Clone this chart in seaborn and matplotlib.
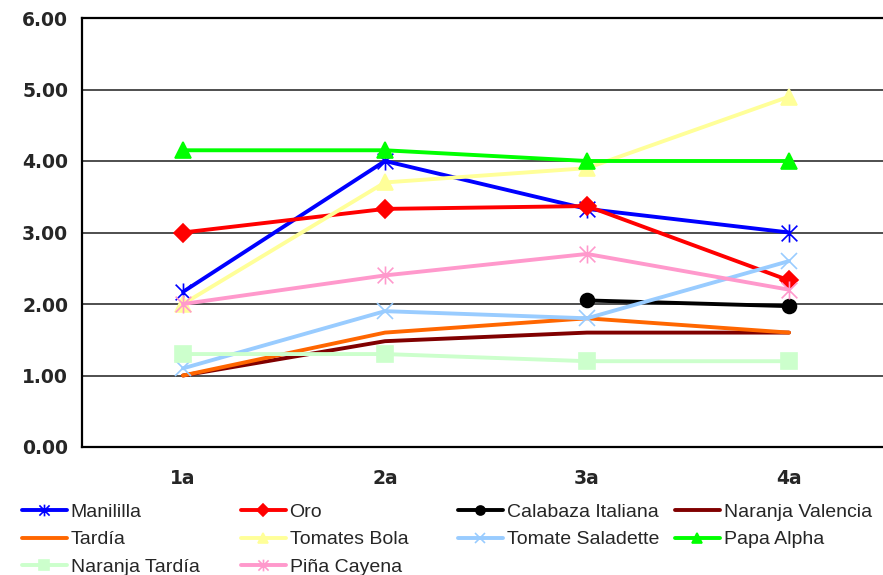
import numpy as np
import pandas as pd
import matplotlib
matplotlib.use("Agg")
import matplotlib.pyplot as plt
from matplotlib.path import Path
import seaborn as sns

# ----------- DONNÉES ------------
categories = ["1a", "2a", "3a", "4a"]

manililla = [2.17, 4.00, 3.33, 3.00]
oro = [3.00, 3.33, 3.37, 2.33]
calabaza_italiana = [np.nan, np.nan, 2.05, 1.97]
naranja_valencia = [1.00, 1.48, 1.60, 1.60]
tardia = [1.00, 1.60, 1.80, 1.60]
tomates_bola = [2.00, 3.70, 3.90, 4.90]
tomate_saladette = [1.10, 1.90, 1.80, 2.60]
papa_alpha = [4.15, 4.15, 4.00, 4.00]
naranja_tardia = [1.30, 1.30, 1.20, 1.20]
pina_cayena = [2.00, 2.40, 2.70, 2.20]

series_names = ["Manililla", "Oro", "Calabaza Italiana", "Naranja Valencia",
                "Tardía", "Tomates Bola", "Tomate Saladette", "Papa Alpha",
                "Naranja Tardía", "Piña Cayena"]
series_values = [manililla, oro, calabaza_italiana, naranja_valencia, tardia,
                 tomates_bola, tomate_saladette, papa_alpha, naranja_tardia,
                 pina_cayena]

# marqueur "étoile" d'Excel : un x avec un trait vertical
star = Path([(-1, -1), (1, 1), (-1, 1), (1, -1), (0, -1.15), (0, 1.15)],
            [Path.MOVETO, Path.LINETO, Path.MOVETO, Path.LINETO,
             Path.MOVETO, Path.LINETO])

# couleur, marqueur, taille, marqueur plein ?
styles = {
    "Manililla": ("#0000FF", star, 13, False),
    "Oro": ("#FF0000", "D", 9, True),
    "Calabaza Italiana": ("#000000", "o", 10, True),
    "Naranja Valencia": ("#800000", None, 0, True),
    "Tardía": ("#FF6600", None, 0, True),
    "Tomates Bola": ("#FFFF99", "^", 12, True),
    "Tomate Saladette": ("#99CCFF", "x", 12, False),
    "Papa Alpha": ("#00FF00", "^", 12, True),
    "Naranja Tardía": ("#CCFFCC", "s", 11, True),
    "Piña Cayena": ("#FF99CC", star, 13, False),
}

sns.set_style("white")
plt.rcParams["font.family"] = ["Liberation Sans", "DejaVu Sans"]

fig = plt.figure(figsize=(8.83, 5.75), dpi=100)
ax = fig.add_axes([82 / 883, 1 - 447 / 575, 808 / 883, 429 / 575])

for name, vals in zip(series_names, series_values):
    color, marker, ms, filled = styles[name]
    df = pd.DataFrame({"cat": categories, "val": vals}).dropna()
    kw = {}
    if marker is not None:
        kw = dict(marker=marker, markersize=ms, markeredgecolor=color,
                  markerfacecolor=color if filled else "none",
                  markeredgewidth=1.2)
    sns.lineplot(data=df, x="cat", y="val", ax=ax, color=color, linewidth=2.8,
                 label=name, sort=False, **kw)

ax.set_xlim(-0.5, 3.5)
ax.set_ylim(0, 6)
ax.set_yticks(np.arange(0, 6.01, 1))
ax.set_yticklabels([f"{v:.2f}" for v in np.arange(0, 6.01, 1)],
                   fontsize=13.5, fontweight="bold", family="DejaVu Sans")
ax.set_xticks(range(len(categories)))
ax.set_xticklabels(categories, fontsize=13.5, fontweight="bold", family="DejaVu Sans")
ax.set_xticks([0.5, 1.5, 2.5], minor=True)
ax.tick_params(axis="x", which="major", length=0, pad=16)
ax.tick_params(axis="x", which="minor", length=5, width=1, color="black", direction="out")
ax.tick_params(axis="y", length=5, width=1, color="black", direction="out", pad=5)
ax.yaxis.grid(True, color="#404040", linewidth=1.3)
ax.set_axisbelow(True)
ax.set_xlabel("")
ax.set_ylabel("")
for side in ["left", "bottom", "top"]:
    ax.spines[side].set_color("black")
    ax.spines[side].set_linewidth(1.6)
ax.spines["right"].set_visible(False)

# légende : 4 colonnes placées sous le graphique
handles, labels = ax.get_legend_handles_labels()
ax.get_legend().remove()
columns = [[0, 4, 8], [1, 5, 9], [2, 6], [3, 7]]
col_x = [22, 241, 458, 675]
for idx, x0 in zip(columns, col_x):
    fig.legend([handles[i] for i in idx], [labels[i] for i in idx],
               loc="upper left", bbox_to_anchor=(x0 / 883, 1 - 503 / 575),
               frameon=False, fontsize=14, handlelength=2.3, markerscale=0.65,
               handletextpad=0.2, labelspacing=0.52, borderpad=0,
               borderaxespad=0)

fig.savefig("out.png", dpi=100)
